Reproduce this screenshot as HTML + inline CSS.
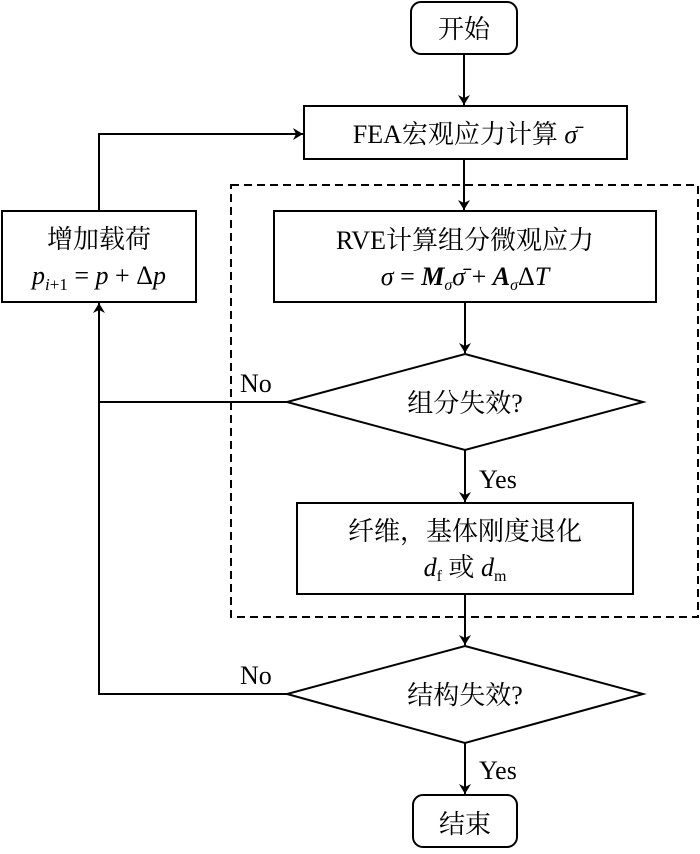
<!DOCTYPE html>
<html><head><meta charset="utf-8"><style>
html,body{margin:0;padding:0;background:#fff;}
svg text{font-family:"Liberation Serif","Noto Serif CJK SC","Noto Sans CJK SC",serif;fill:#000;}
</style></head><body>
<svg width="700" height="849" viewBox="0 0 700 849" xmlns="http://www.w3.org/2000/svg">
<defs>
<marker id="a" markerWidth="10" markerHeight="16" refX="10" refY="8" orient="auto" markerUnits="userSpaceOnUse">
<path d="M0,2 L10,8 L0,14 L3,8 Z" fill="#000"/>
</marker>
</defs>
<g fill="none" stroke="#000" stroke-width="2">
<rect x="411" y="2" width="106" height="52" rx="10"/>
<rect x="304" y="106" width="323" height="53"/>
<rect x="2" y="211" width="194" height="91"/>
<rect x="274" y="211" width="382" height="91"/>
<rect x="231" y="185" width="467" height="432" stroke-dasharray="8,5"/>
<polygon points="465,354 643,402 465,450 287,402"/>
<rect x="297" y="503" width="336" height="91"/>
<polygon points="465,646 643,694 465,743 287,694"/>
<rect x="413" y="795" width="104" height="52" rx="10"/>
<line x1="464" y1="54" x2="464" y2="105" marker-end="url(#a)"/>
<line x1="464" y1="159" x2="464" y2="210" marker-end="url(#a)"/>
<line x1="465" y1="302" x2="465" y2="353" marker-end="url(#a)"/>
<line x1="465" y1="450" x2="465" y2="502" marker-end="url(#a)"/>
<line x1="465" y1="594" x2="465" y2="645" marker-end="url(#a)"/>
<line x1="465" y1="743" x2="465" y2="794" marker-end="url(#a)"/>
<polyline points="287,402 99,402"/>
<polyline points="287,694 99,694 99,303" marker-end="url(#a)"/>
<polyline points="99,211 99,134 303,134" marker-end="url(#a)"/>
</g>
<g font-size="26">
<text x="464" y="38" text-anchor="middle">开始</text>
<text x="465" y="143" text-anchor="middle">FEA宏观应力计算 <tspan font-style="italic">σ̄</tspan></text>
<text x="99" y="248" text-anchor="middle">增加载荷</text>
<text x="99" y="284" text-anchor="middle"><tspan font-style="italic">p</tspan><tspan font-size="17" font-style="italic" dy="6">i</tspan><tspan font-size="17" dy="0">+1</tspan><tspan dy="-6"> = </tspan><tspan font-style="italic">p</tspan> + Δ<tspan font-style="italic">p</tspan></text>
<text x="465" y="249" text-anchor="middle">RVE计算组分微观应力</text>
<text x="465" y="285" text-anchor="middle"><tspan font-style="italic">σ</tspan> = <tspan font-weight="bold" font-style="italic">M</tspan><tspan font-size="16" font-style="italic" dy="5">σ</tspan><tspan dy="-5" font-style="italic">σ̄</tspan> + <tspan font-weight="bold" font-style="italic">A</tspan><tspan font-size="16" font-style="italic" dy="5">σ</tspan><tspan dy="-5">Δ</tspan><tspan font-style="italic">T</tspan></text>
<text x="465" y="412" text-anchor="middle">组分失效?</text>
<text x="465" y="540" text-anchor="middle">纤维，基体刚度退化</text>
<text x="465" y="576" text-anchor="middle"><tspan font-style="italic">d</tspan><tspan font-size="16" dy="5">f</tspan><tspan dy="-5"> 或 </tspan><tspan font-style="italic">d</tspan><tspan font-size="16" dy="5">m</tspan></text>
<text x="465" y="704" text-anchor="middle">结构失效?</text>
<text x="465" y="833" text-anchor="middle">结束</text>
<text x="240" y="392">No</text>
<text x="240" y="684">No</text>
<text x="479" y="488">Yes</text>
<text x="479" y="779">Yes</text>
</g>
</svg>
</body></html>
